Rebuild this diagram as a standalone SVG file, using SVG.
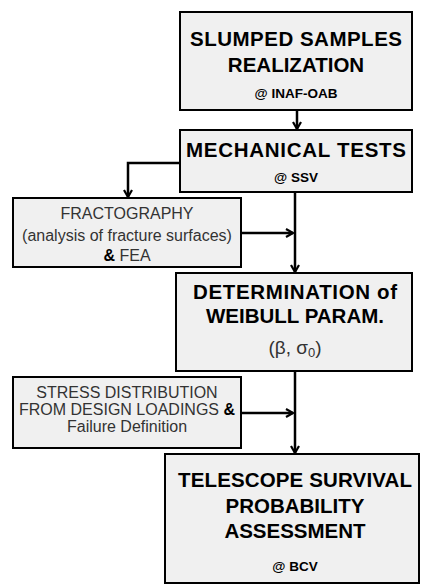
<svg xmlns="http://www.w3.org/2000/svg" width="421" height="587" viewBox="0 0 421 587">
<defs>
<marker id="ah" viewBox="0 0 10 10" refX="9" refY="5" markerWidth="10" markerHeight="10" markerUnits="userSpaceOnUse" orient="auto">
<path d="M2,1 L9,5 L2,9" fill="none" stroke="#000" stroke-width="2.2"/>
</marker>
</defs>
<style>
.box{fill:#f0f0f0;stroke:#000;stroke-width:2}
.b{font-family:"Liberation Sans",Arial,sans-serif;font-weight:bold;fill:#000;text-anchor:middle}
.r{font-family:"Liberation Sans",Arial,sans-serif;fill:#333;text-anchor:middle}
.c{fill:none;stroke:#000;stroke-width:2.5}
</style>
<g id="n1">
<rect class="box" x="180" y="12" width="232" height="98"/>
<text class="b" x="296" y="46" font-size="20.5" textLength="212" lengthAdjust="spacing">SLUMPED SAMPLES</text>
<text class="b" x="296" y="72" font-size="20.5">REALIZATION</text>
<text class="b" x="296" y="98" font-size="13.5">@ INAF-OAB</text>
</g>
<g id="n2">
<rect class="box" x="180" y="130" width="232" height="62"/>
<text class="b" x="296" y="157" font-size="20.5" textLength="220" lengthAdjust="spacing">MECHANICAL TESTS</text>
<text class="b" x="296" y="182" font-size="13.5">@ SSV</text>
</g>
<g id="n3">
<rect class="box" x="13" y="198" width="228" height="69"/>
<text class="r" x="127" y="219" font-size="16">FRACTOGRAPHY</text>
<text class="r" x="127" y="241" font-size="16">(analysis of fracture surfaces)</text>
<text class="r" x="127" y="261" font-size="16"><tspan font-weight="bold" fill="#000">&amp;</tspan> FEA</text>
</g>
<g id="n4">
<rect class="box" x="176" y="273" width="236" height="98"/>
<text class="b" x="295" y="299" font-size="20.5" textLength="204" lengthAdjust="spacing">DETERMINATION of</text>
<text class="b" x="295" y="323" font-size="20.5">WEIBULL PARAM.</text>
<text class="r" x="295" y="354" font-size="19">(β, σ<tspan font-size="13" dy="3">0</tspan><tspan dy="-3">)</tspan></text>
</g>
<g id="n5">
<rect class="box" x="13" y="377" width="228" height="71"/>
<text class="r" x="127" y="398" font-size="16">STRESS DISTRIBUTION</text>
<text class="r" x="127" y="415" font-size="16">FROM DESIGN LOADINGS <tspan font-weight="bold" fill="#000">&amp;</tspan></text>
<text class="r" x="127" y="432" font-size="16">Failure Definition</text>
</g>
<g id="n6">
<rect class="box" x="165" y="454" width="254" height="129"/>
<text class="b" x="295" y="487" font-size="20.5" textLength="234" lengthAdjust="spacing">TELESCOPE SURVIVAL</text>
<text class="b" x="295" y="513" font-size="20.5">PROBABILITY</text>
<text class="b" x="295" y="538" font-size="20.5">ASSESSMENT</text>
<text class="b" x="295" y="571" font-size="13.5">@ BCV</text>
</g>
<g id="connectors">
<line class="c" x1="297" y1="110" x2="297" y2="129" marker-end="url(#ah)"/>
<polyline class="c" points="180,163 128,163 128,197" marker-end="url(#ah)"/>
<line class="c" x1="295" y1="192" x2="295" y2="272" marker-end="url(#ah)"/>
<line class="c" x1="241" y1="233" x2="293" y2="233" marker-end="url(#ah)"/>
<line class="c" x1="295" y1="371" x2="295" y2="453" marker-end="url(#ah)"/>
<line class="c" x1="241" y1="413" x2="293" y2="413" marker-end="url(#ah)"/>
</g>
</svg>
